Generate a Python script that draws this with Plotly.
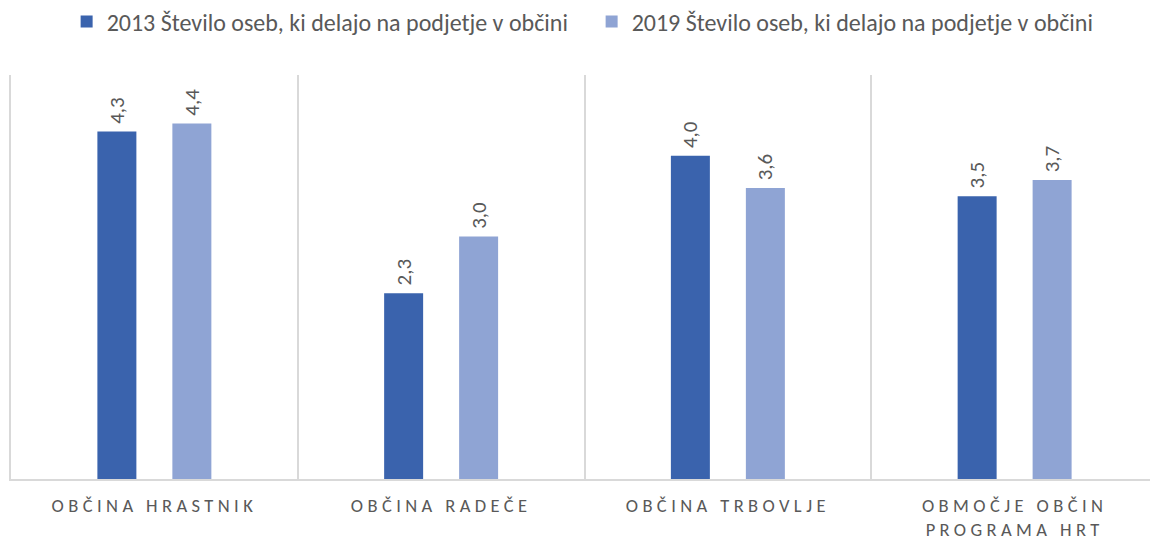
import plotly.graph_objects as go

categories = ["OBČINA HRASTNIK", "OBČINA RADEČE", "OBČINA TRBOVLJE", "OBMOČJE OBČIN<br>PROGRAMA HRT"]
series_names = ["2013 Število oseb, ki delajo na podjetje v občini",
                "2019 Število oseb, ki delajo na podjetje v občini"]
values_2013 = [4.3, 2.3, 4.0, 3.5]
values_2019 = [4.4, 3.0, 3.6, 3.7]

colors = ["#3a63ad", "#8fa4d4"]
font_family = "Calibri, Carlito, Lato, 'Open Sans', sans-serif"
text_color = "#595959"
grid_color = "#d9d9d9"

fig = go.Figure()
for name, vals, col in zip(series_names, [values_2013, values_2019], colors):
    fig.add_trace(go.Bar(
        x=categories, y=vals, name=name,
        marker=dict(color=col, line=dict(width=0)),
        texttemplate="\u00a0%{y:.1f}", textposition="outside", textangle=-90,
        textfont=dict(family=font_family, size=21, color=text_color),
        cliponaxis=False,
    ))

# page has an 8px body margin: figure is 1150x533 placed at (8, 8)
fig.update_layout(
    width=1150, height=533,
    margin=dict(l=3, r=0, t=67, b=62, autoexpand=False),
    paper_bgcolor="white", plot_bgcolor="white",
    barmode="group", bargap=0.477, bargroupgap=0.48,
    separators=", ",
    font=dict(family=font_family, color=text_color),
    showlegend=True,
    legend=dict(orientation="h", xref="container", yref="container",
                x=0.5075, xanchor="center", y=0.974, yanchor="middle",
                font=dict(family=font_family, size=24, color=text_color),
                itemwidth=30, entrywidth=480, entrywidthmode="pixels"),
    xaxis=dict(type="category", tickson="boundaries", showgrid=True,
               gridcolor=grid_color, gridwidth=1.5,
               showline=True, linecolor=grid_color, linewidth=1.5,
               ticks="", ticklabelstandoff=9,
               tickfont=dict(family=font_family, size=18.5, color=text_color),
               zeroline=False, automargin=False),
    yaxis=dict(range=[0, 5], showgrid=False, showticklabels=False, zeroline=False,
               showline=True, linecolor=grid_color, linewidth=1.5,
               fixedrange=True, automargin=False),
)

post = """
function ls(){document.querySelectorAll('.xtick text').forEach(function(t){t.style.letterSpacing='4.4px';});}
ls();
var gd=document.getElementsByClassName('plotly-graph-div')[0];
gd.on('plotly_afterplot', ls);
"""
fig.write_html("out.html", post_script=post)
